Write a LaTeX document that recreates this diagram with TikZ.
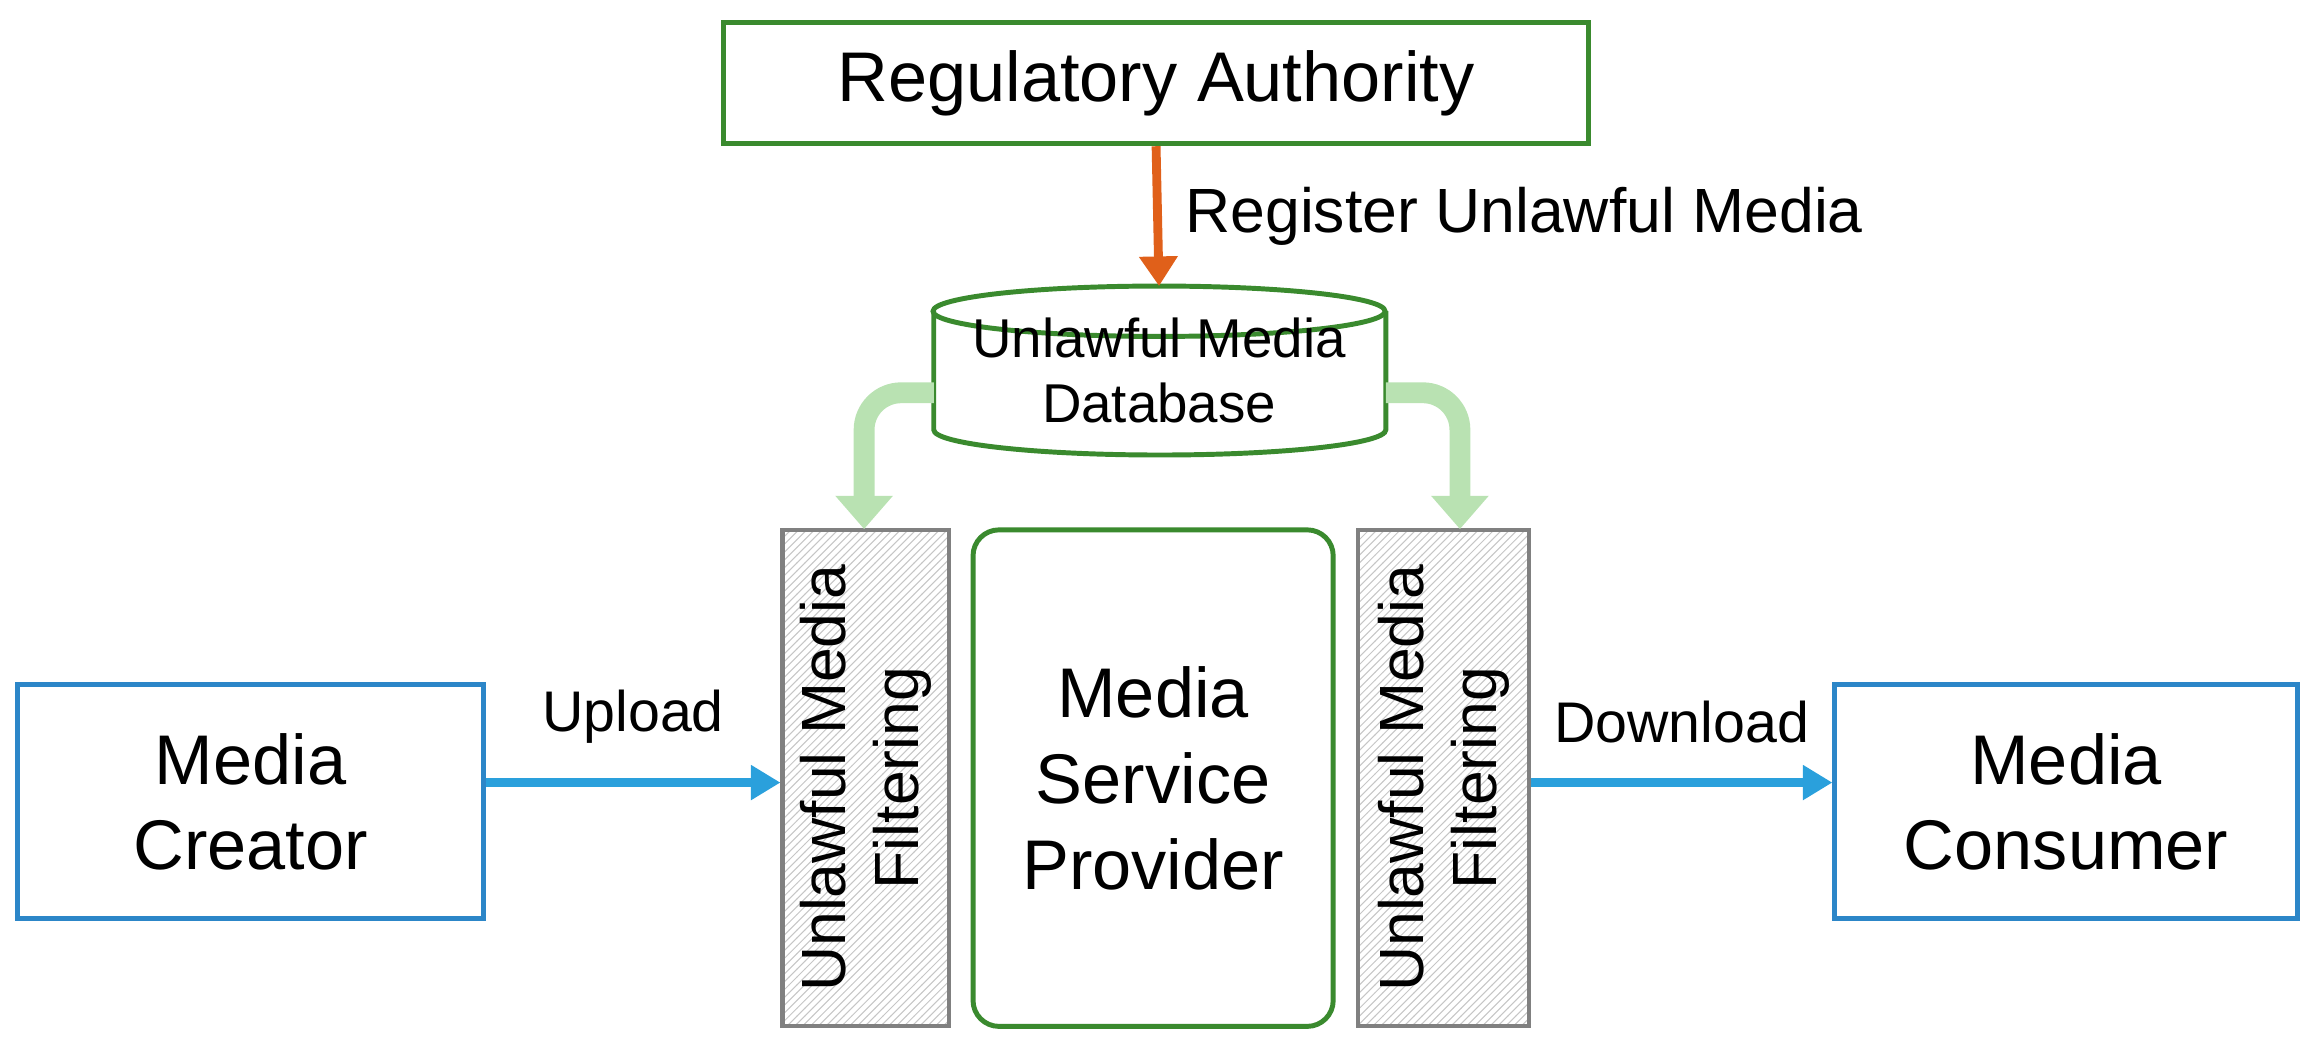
\documentclass[tikz,border=0pt]{standalone}
\usepackage{fontspec}
\setmainfont{Liberation Sans}
\usetikzlibrary{arrows.meta,shapes.geometric,patterns}
\definecolor{dgreen}{HTML}{3A8A2E}
\definecolor{lgreen}{HTML}{B9E2B2}
\definecolor{oblue}{HTML}{2C86C8}
\definecolor{bblue}{HTML}{2AA0DC}
\definecolor{orng}{HTML}{E0601A}
\begin{document}
\begin{tikzpicture}[x=0.02cm,y=-0.02cm,
  box/.style={draw, line width=1.9pt, align=center, inner sep=0pt},
  filt/.style={draw=gray, line width=1.6pt, pattern=north east lines, pattern color=gray!45, inner sep=0pt},
  big/.style={font=\fontsize{27}{33}\selectfont},
  flow/.style={-{Triangle[length=0.4cm,width=0.45cm]}, line width=3.4pt, bblue},
  feed/.style={-{Triangle[length=0.45cm,width=0.75cm]}, line width=8pt, lgreen, rounded corners=0.5cm}]
\useasboundingbox (0,0) rectangle (1568,712);
\node[box, draw=dgreen, minimum width=584*0.02cm, minimum height=82*0.02cm, big] (ra) at (780,56) {Regulatory Authority};
% cylinder
\coordinate (dbtop) at (782,193);
\draw[dgreen, line width=1.9pt, fill=white] (630,210) -- (630,290) arc[start angle=180, end angle=360, x radius=152.5, y radius=-17] -- (935,210);
\draw[dgreen, line width=1.9pt] (782,210) ellipse[x radius=152.5, y radius=-17];
\node[align=center, font=\fontsize{21}{25}\selectfont] (dbt) at (782,250) {Unlawful Media\\Database};
\draw[-{Triangle[length=0.4cm,width=0.5cm]}, line width=3.4pt, orng] (ra.south) -- (dbtop) node[midway, right=0.2cm, black, font=\fontsize{24}{28}\selectfont] (rl) {Register Unlawful Media};
\node[filt, minimum width=112*0.02cm, minimum height=335*0.02cm] (fl) at (584,525) {};
\node[rotate=90, align=center, font=\fontsize{24}{28}\selectfont] (flt) at (584,525) {Unlawful Media\\Filtering};
\node[filt, minimum width=115*0.02cm, minimum height=335*0.02cm] (fr) at (974,525) {};
\node[rotate=90, align=center, font=\fontsize{24}{28}\selectfont] (frt) at (974,525) {Unlawful Media\\Filtering};
\node[box, draw=dgreen, rounded corners=0.35cm, minimum width=243*0.02cm, minimum height=335*0.02cm, big] (msp) at (778,525) {Media\\Service\\Provider};
\node[box, draw=oblue, minimum width=314*0.02cm, minimum height=158*0.02cm, big] (mc) at (169,541) {Media\\Creator};
\node[box, draw=oblue, minimum width=312*0.02cm, minimum height=158*0.02cm, big] (mco) at (1394,541) {Media\\Consumer};
\draw[feed] (630,265) -| (583,357);
\draw[feed] (935,265) -| (985,357);
\draw[flow] (mc.east |- 0,528) -- (fl.west |- 0,528) node[midway, above=0.35cm, black, font=\fontsize{22}{26}\selectfont] (up) {Upload};
\draw[flow] (fr.east |- 0,528) -- (mco.west |- 0,528) node[midway, above=0.35cm, black, font=\fontsize{22}{26}\selectfont] (dn) {Download};
\end{tikzpicture}
\end{document}
